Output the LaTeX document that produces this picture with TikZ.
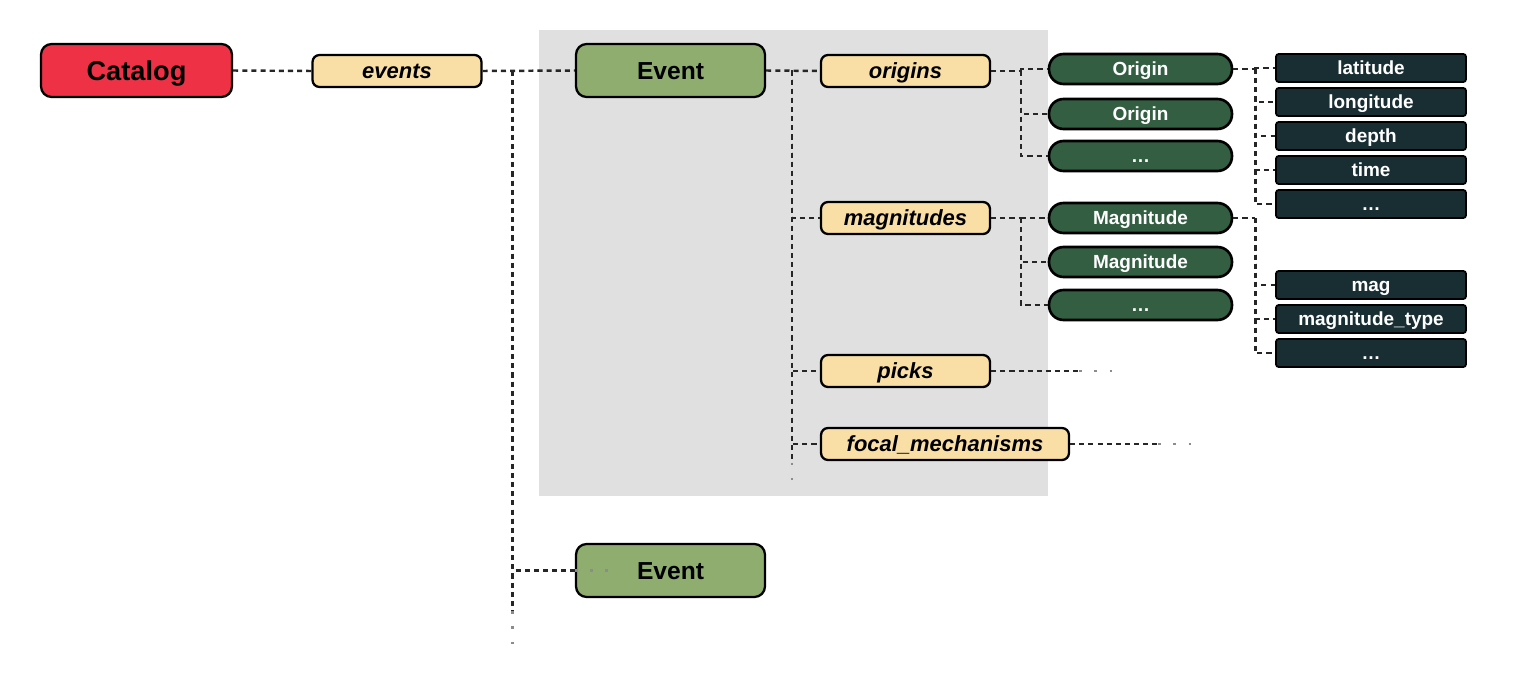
\documentclass[tikz,border=0pt]{standalone}
\usepackage{fontspec}
\setmainfont{Liberation Sans}
\usetikzlibrary{calc,positioning}
\definecolor{catred}{HTML}{EF3146}
\definecolor{evgreen}{HTML}{8FAD6E}
\definecolor{attrwheat}{HTML}{F9DFA6}
\definecolor{objgreen}{HTML}{335E42}
\definecolor{leafteal}{HTML}{182E33}
\definecolor{bggray}{HTML}{E0E0E0}
\tikzset{
    box/.style={
        draw=black,
        line width=1.3pt,
        inner sep=0pt,
        text depth=0pt
    },
    catbox/.style={box, fill=catred, rounded corners=6pt,
        minimum width=3.82cm, minimum height=1.06cm, text height=11.2pt,
        font=\fontsize{15.5}{18}\selectfont\bfseries},
    evbox/.style={box, fill=evgreen, rounded corners=6pt,
        minimum width=3.78cm, minimum height=1.06cm, text height=10.1pt,
        font=\fontsize{14}{17}\selectfont\bfseries},
    listbox/.style={box, fill=attrwheat, rounded corners=4pt,
        minimum width=3.38cm, minimum height=0.64cm, text height=9pt,
        font=\fontsize{12.5}{15}\selectfont\bfseries\itshape},
    objbox/.style={box, line width=1.5pt, fill=objgreen, text=white, rounded corners=0.29cm,
        minimum width=3.66cm, minimum height=0.6cm, text height=7.8pt,
        font=\fontsize{10.8}{13}\selectfont\bfseries},
    leafbox/.style={box, line width=1pt, fill=leafteal, text=white, rounded corners=1.5pt,
        minimum width=3.8cm, minimum height=0.56cm, text height=7.8pt,
        font=\fontsize{10.8}{13}\selectfont\bfseries},
    link/.style={
        draw=black!85,
        line width=1.4pt,
        dash pattern=on 2.9pt off 2.3pt
    },
    tail/.style={
        draw=black!45,
        line width=1.5pt,
        dash pattern=on 1.5pt off 7.2pt
    }
}
\begin{document}
\begin{tikzpicture}[x=0.02cm, y=-0.02cm]
    \useasboundingbox (0,0) rectangle (1522,686);
    % the event that is opened up
    \fill[bggray] (539,30) rectangle (1048,496);

    \node[catbox] (catalog) at (136.5,70.5) {Catalog};
    \node[listbox] (events) at (397,71) {events};
    \node[evbox] (event) at (670.5,70.5) {Event};
    \node[evbox] (eventb) at (670.5,570.5) {Event};

    \node[listbox] (origins) at (905.5,71) {origins};
    \node[listbox] (magnitudes) at (905.5,218) {magnitudes};
    \node[listbox] (picks) at (905.5,371) {picks};
    \node[listbox, minimum width=4.96cm] (focal) at (945,444) {focal\_mechanisms};

    \foreach \y/\txt [count=\i] in {69/Origin, 114/Origin, 156/\ldots}
        \node[objbox] (orig\i) at (1140.5,\y) {\txt};
    \foreach \y/\txt [count=\i] in {218/Magnitude, 262/Magnitude, 305/\ldots}
        \node[objbox] (mag\i) at (1140.5,\y) {\txt};

    \foreach \y/\txt [count=\i] in {68/latitude, 102/longitude, 136/depth, 170/time, 204/\ldots}
        \node[leafbox] (oatt\i) at (1371,\y) {\txt};
    \foreach \y/\txt [count=\i] in {285/mag, 319/magnitude\_type, 353/\ldots}
        \node[leafbox] (matt\i) at (1371,\y) {\txt};

    % catalog level
    \draw[link] (catalog.east) -- (events.west);
    \coordinate (evbus) at ($(events.east)+(30,0)$);
    \draw[link] (events.east) -- (event.west);
    \draw[link] (evbus) -- ++(0,540) coordinate (evbusend);
    \draw[tail] (evbusend) -- ++(0,34);
    \draw[link] (evbus) |- (eventb.west);
    \draw[tail] (eventb.west) -- ++(45,0);

    % event level
    \coordinate (ebus) at ($(event.east)+(26,0)$);
    \draw[link] (event.east) -- (origins.west);
    \draw[link] (ebus) -- ++(0,392) coordinate (ebusend);
    \draw[tail] (ebusend) -- ++(0,18);
    \foreach \n in {magnitudes,picks,focal}
        \draw[link] (ebus) |- (\n.west);

    % lists
    \coordinate (obus) at ($(origins.east)+(30,0)$);
    \draw[link] (origins.east) -- (obus);
    \foreach \i in {1,2,3}
        \draw[link] (obus) |- (orig\i.west);
    \coordinate (mbus) at ($(magnitudes.east)+(30,0)$);
    \draw[link] (magnitudes.east) -- (mbus);
    \foreach \i in {1,2,3}
        \draw[link] (mbus) |- (mag\i.west);
    \draw[link] (picks.east) -- ++(88,0) coordinate (pickend);
    \draw[tail] (pickend) -- ++(36,0);
    \draw[link] (focal.east) -- ++(88,0) coordinate (focalend);
    \draw[tail] (focalend) -- ++(36,0);

    % attributes
    \coordinate (oabus) at ($(orig1.east)+(22,0)$);
    \draw[link] (orig1.east) -- (oabus);
    \foreach \i in {1,...,5}
        \draw[link] (oabus) |- (oatt\i.west);
    \coordinate (mabus) at ($(mag1.east)+(22,0)$);
    \draw[link] (mag1.east) -- (mabus);
    \foreach \i in {1,2,3}
        \draw[link] (mabus) |- (matt\i.west);
\end{tikzpicture}
\end{document}
